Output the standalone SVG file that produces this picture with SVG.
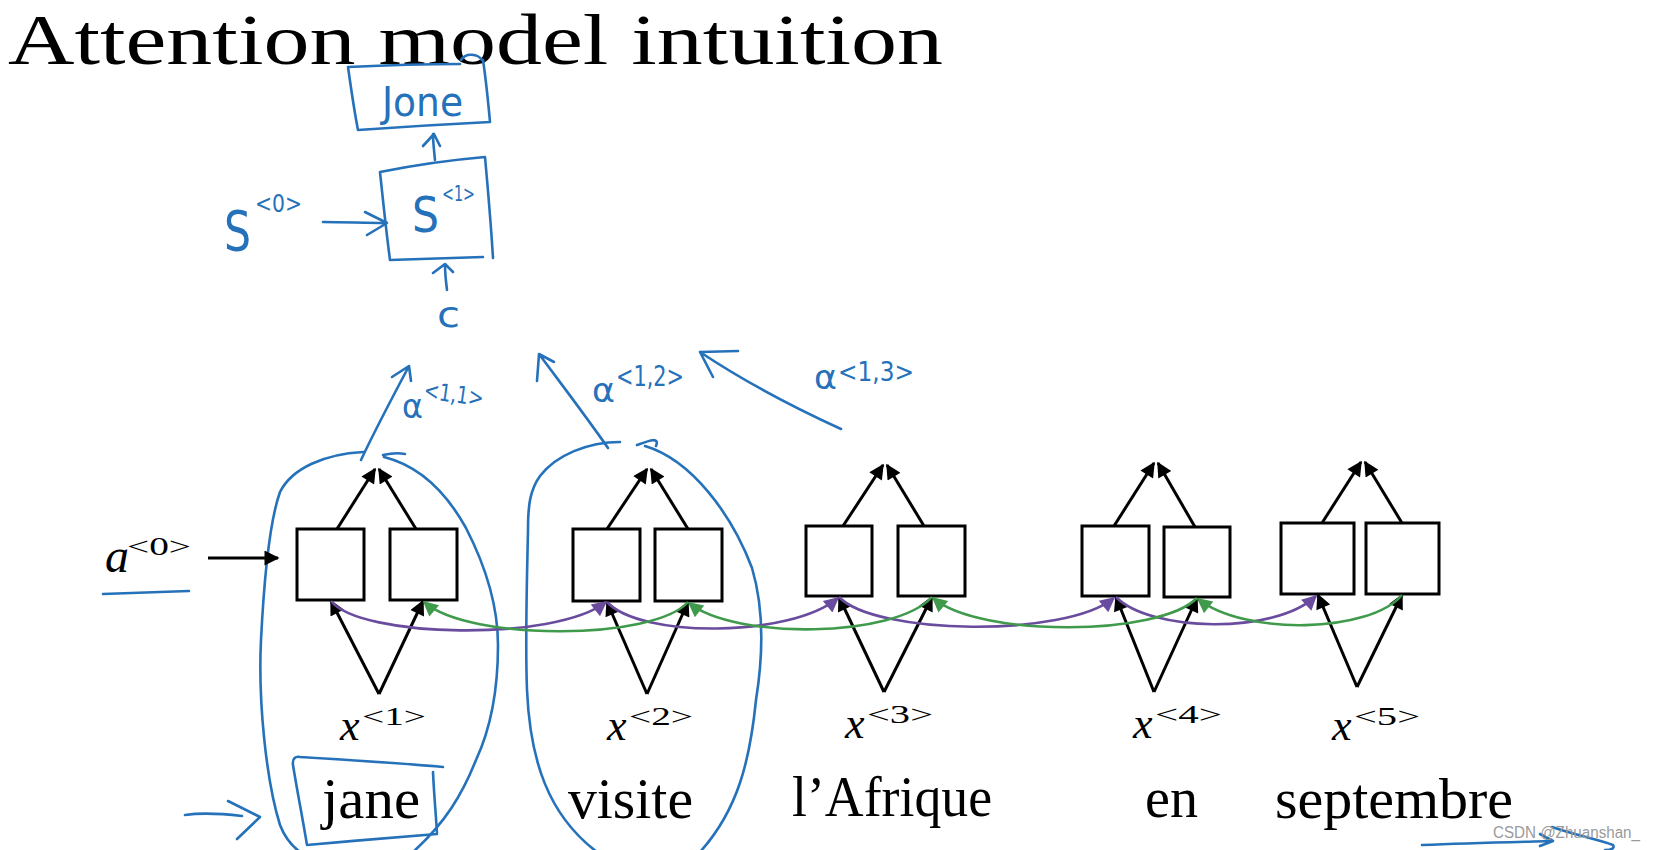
<svg xmlns="http://www.w3.org/2000/svg" width="1656" height="850" viewBox="0 0 1656 850">
  <style>
    .box { fill: #fff; stroke: #000; stroke-width: 3; }
    .arr { fill: none; stroke: #000; stroke-width: 3; marker-end: url(#ahK); }
    .pur { fill: none; stroke: #6a4c9e; stroke-width: 2.6; marker-end: url(#ahP); }
    .grn { fill: none; stroke: #3f9a4b; stroke-width: 2.6; marker-end: url(#ahG); }
    .ink { fill: none; stroke: #2571ba; stroke-width: 2.6; stroke-linecap: round; stroke-linejoin: round; }
    .serif { font-family: "Liberation Serif", "DejaVu Serif", serif; fill: #000; }
    .ital { font-family: "Liberation Serif", "DejaVu Serif", serif; font-style: italic; fill: #000; }
    .hand { font-family: "DejaVu Sans", "Liberation Sans", sans-serif; fill: #2571ba; }
  </style>
  <defs>
    <marker id="ahK" viewBox="0 0 10 10" refX="9" refY="5" markerWidth="17" markerHeight="15" markerUnits="userSpaceOnUse" orient="auto">
      <path d="M0,0 L10,5 L0,10 z" fill="#000"/>
    </marker>
    <marker id="ahP" viewBox="0 0 10 10" refX="9" refY="5" markerWidth="17" markerHeight="15" markerUnits="userSpaceOnUse" orient="auto">
      <path d="M0,0 L10,5 L0,10 z" fill="#6a4c9e"/>
    </marker>
    <marker id="ahG" viewBox="0 0 10 10" refX="9" refY="5" markerWidth="17" markerHeight="15" markerUnits="userSpaceOnUse" orient="auto">
      <path d="M0,0 L10,5 L0,10 z" fill="#3f9a4b"/>
    </marker>
  </defs>

  <rect width="1656" height="850" fill="#fff"/>

  <g id="title">
    <text class="serif" x="8" y="64" font-size="72" textLength="935" lengthAdjust="spacingAndGlyphs">Attention model intuition</text>
  </g>

  <!-- Hand-drawn decoder part -->
  <g id="node-jone-out">
    <path class="ink" d="M348,67 C390,65 430,64 460,64 M461,60 C466,52 478,54 482,60 M483,60 C486,80 488,100 490,122 C450,124 400,127 358,130 C354,110 351,88 348,67"/>
    <text class="hand" x="382" y="116" font-size="40" textLength="81" lengthAdjust="spacingAndGlyphs">Jone</text>
  </g>
  <g id="node-s1">
    <path class="ink" d="M380,172 C415,165 450,160 485,157 C488,190 491,225 493,258 M483,257 C450,258 420,259 390,260 C386,230 383,200 380,172"/>
    <text class="hand" x="412" y="232" font-size="50" textLength="27" lengthAdjust="spacingAndGlyphs">S</text>
    <text class="hand" x="442" y="201" font-size="22" textLength="33" lengthAdjust="spacingAndGlyphs">&lt;1&gt;</text>
  </g>
  <g id="node-s0">
    <text class="hand" x="224" y="250" font-size="56" textLength="27" lengthAdjust="spacingAndGlyphs">S</text>
    <text class="hand" x="255" y="212" font-size="24" textLength="47" lengthAdjust="spacingAndGlyphs">&lt;0&gt;</text>
  </g>
  <g id="node-c">
    <text class="hand" x="437" y="327" font-size="36" textLength="23" lengthAdjust="spacingAndGlyphs">c</text>
  </g>
  <g id="label-alpha11">
    <text class="hand" x="402" y="418" font-size="34" textLength="21" lengthAdjust="spacingAndGlyphs">α</text>
    <text class="hand" x="423" y="398" font-size="24" textLength="60" lengthAdjust="spacingAndGlyphs" transform="rotate(8 423 398)">&lt;1,1&gt;</text>
  </g>
  <g id="label-alpha12">
    <text class="hand" x="592" y="402" font-size="34" textLength="23" lengthAdjust="spacingAndGlyphs">α</text>
    <text class="hand" x="616" y="386" font-size="28" textLength="68" lengthAdjust="spacingAndGlyphs">&lt;1,2&gt;</text>
  </g>
  <g id="label-alpha13">
    <text class="hand" x="814" y="389" font-size="34" textLength="23" lengthAdjust="spacingAndGlyphs">α</text>
    <text class="hand" x="838" y="381" font-size="26" textLength="76" lengthAdjust="spacingAndGlyphs">&lt;1,3&gt;</text>
  </g>

  <!-- Hand-drawn loops and marks -->
  <g id="loop-1">
    <path class="ink" d="M363,452 C325,454 292,468 280,492 C270,520 264,580 261,640 C258,700 266,780 280,825 C285,838 292,846 300,852"/>
    <path class="ink" d="M384,457 C420,466 446,492 466,528 C485,565 498,605 498,645 C498,690 490,730 476,760 C462,795 445,823 413,852"/>
    <path class="ink" d="M383,455 C392,453 400,453 405,454"/>
  </g>
  <g id="loop-2">
    <path class="ink" d="M620,442 C588,442 556,455 540,476 C530,490 528,505 528,530 C527,580 525,640 527,690 C530,760 548,815 597,852"/>
    <path class="ink" d="M637,445 C648,441 660,436 656,446 M645,446 C692,460 732,515 752,568 C763,605 764,650 756,700 C750,760 738,810 700,852"/>
  </g>
  <g id="box-jane">
    <path class="ink" d="M300,757 C350,760 400,763 443,767 M433,772 C434,795 436,815 437,834 C400,837 350,841 307,845 C302,815 297,790 293,765 C292,758 296,756 300,757"/>
  </g>
  <g id="underline-a0">
    <path class="ink" d="M103,594 C130,593 160,592 189,591"/>
  </g>
  <g id="pointer-jane">
    <path class="ink" d="M185,815 C205,812 225,814 242,816 M228,801 L260,817 L237,839"/>
  </g>
  <g id="underline-septembre">
    <path class="ink" d="M1422,845 C1470,843 1515,842 1553,841 M1540,834 L1553,841 L1540,846 M1552,827 C1575,835 1600,840 1613,845 C1615,848 1612,850 1605,850"/>
  </g>

  <!-- Encoder cells -->
  <g id="cell-1">
    <rect class="box" x="297" y="529" width="67" height="71"/>
    <rect class="box" x="390" y="529" width="67" height="71"/>
  </g>
  <g id="cell-2">
    <rect class="box" x="573" y="529" width="67" height="72"/>
    <rect class="box" x="655" y="529" width="67" height="72"/>
  </g>
  <g id="cell-3">
    <rect class="box" x="806" y="526" width="66" height="70"/>
    <rect class="box" x="898" y="526" width="67" height="70"/>
  </g>
  <g id="cell-4">
    <rect class="box" x="1082" y="526" width="67" height="70"/>
    <rect class="box" x="1164" y="527" width="66" height="70"/>
  </g>
  <g id="cell-5">
    <rect class="box" x="1281" y="523" width="73" height="71"/>
    <rect class="box" x="1366" y="523" width="73" height="71"/>
  </g>

  <g id="label-a0">
    <text class="ital" x="105" y="572" font-size="48">a</text>
    <text class="serif" x="127" y="555" font-size="26" textLength="64" lengthAdjust="spacingAndGlyphs">&lt;0&gt;</text>
  </g>

  <g id="label-x1">
    <text class="ital" x="340" y="740" font-size="44">x</text>
    <text class="serif" x="362" y="725" font-size="26" textLength="64" lengthAdjust="spacingAndGlyphs">&lt;1&gt;</text>
  </g>
  <g id="label-x2">
    <text class="ital" x="607" y="740" font-size="44">x</text>
    <text class="serif" x="629" y="725" font-size="26" textLength="64" lengthAdjust="spacingAndGlyphs">&lt;2&gt;</text>
  </g>
  <g id="label-x3">
    <text class="ital" x="845" y="738" font-size="44">x</text>
    <text class="serif" x="867" y="723" font-size="26" textLength="66" lengthAdjust="spacingAndGlyphs">&lt;3&gt;</text>
  </g>
  <g id="label-x4">
    <text class="ital" x="1133" y="738" font-size="44">x</text>
    <text class="serif" x="1155" y="723" font-size="26" textLength="67" lengthAdjust="spacingAndGlyphs">&lt;4&gt;</text>
  </g>
  <g id="label-x5">
    <text class="ital" x="1332" y="740" font-size="44">x</text>
    <text class="serif" x="1354" y="725" font-size="26" textLength="66" lengthAdjust="spacingAndGlyphs">&lt;5&gt;</text>
  </g>

  <g id="word-jane"><text class="serif" x="322" y="818" font-size="58" textLength="98" lengthAdjust="spacingAndGlyphs">jane</text></g>
  <g id="word-visite"><text class="serif" x="568" y="818" font-size="58" textLength="125" lengthAdjust="spacingAndGlyphs">visite</text></g>
  <g id="word-lafrique"><text class="serif" x="792" y="816" font-size="58" textLength="200" lengthAdjust="spacingAndGlyphs">l’Afrique</text></g>
  <g id="word-en"><text class="serif" x="1145" y="817" font-size="58" textLength="53" lengthAdjust="spacingAndGlyphs">en</text></g>
  <g id="word-septembre"><text class="serif" x="1275" y="818" font-size="58" textLength="238" lengthAdjust="spacingAndGlyphs">septembre</text></g>

  <g id="watermark">
    <text x="1493" y="838" font-family="Liberation Sans, Arial, sans-serif" font-size="16" fill="#9a9a9a" textLength="147" lengthAdjust="spacingAndGlyphs">CSDN @Zhuanshan_</text>
  </g>

  <g id="connectors">
    <!-- a<0> input -->
    <line class="arr" x1="208" y1="558" x2="278" y2="558"/>
    <!-- upward outputs -->
    <line class="arr" x1="337" y1="529" x2="375" y2="469"/>
    <line class="arr" x1="416" y1="529" x2="379" y2="469"/>
    <line class="arr" x1="607" y1="529" x2="647" y2="469"/>
    <line class="arr" x1="688" y1="529" x2="651" y2="469"/>
    <line class="arr" x1="843" y1="526" x2="883" y2="465"/>
    <line class="arr" x1="924" y1="526" x2="887" y2="465"/>
    <line class="arr" x1="1114" y1="526" x2="1154" y2="463"/>
    <line class="arr" x1="1195" y1="527" x2="1158" y2="463"/>
    <line class="arr" x1="1322" y1="523" x2="1361" y2="462"/>
    <line class="arr" x1="1402" y1="523" x2="1365" y2="462"/>
    <!-- inputs from x -->
    <line class="arr" x1="379" y1="694" x2="331" y2="601"/>
    <line class="arr" x1="379" y1="694" x2="423" y2="601"/>
    <line class="arr" x1="647" y1="694" x2="607" y2="602"/>
    <line class="arr" x1="647" y1="694" x2="688" y2="602"/>
    <line class="arr" x1="884" y1="692" x2="839" y2="597"/>
    <line class="arr" x1="884" y1="692" x2="932" y2="597"/>
    <line class="arr" x1="1154" y1="692" x2="1116" y2="597"/>
    <line class="arr" x1="1154" y1="692" x2="1197" y2="598"/>
    <line class="arr" x1="1357" y1="687" x2="1318" y2="595"/>
    <line class="arr" x1="1357" y1="687" x2="1402" y2="595"/>
    <!-- forward (purple) -->
    <path class="pur" d="M331,601 C360,638 555,642 606,602"/>
    <path class="pur" d="M607,602 C640,638 790,638 838,598"/>
    <path class="pur" d="M839,597 C875,635 1065,638 1114,598"/>
    <path class="pur" d="M1116,597 C1150,632 1275,635 1316,596"/>
    <!-- backward (green) -->
    <path class="grn" d="M688,602 C655,640 470,642 424,602"/>
    <path class="grn" d="M932,597 C895,638 735,640 689,603"/>
    <path class="grn" d="M1197,598 C1160,636 980,638 933,598"/>
    <path class="grn" d="M1402,595 C1370,633 1245,636 1198,599"/>
    <!-- hand-drawn arrows -->
    <path class="ink" d="M435,160 C434,150 433,142 433,134 M423,146 L434,134 L440,146"/>
    <path class="ink" d="M323,222 C345,222 365,223 386,223 M365,212 L387,223 L367,235"/>
    <path class="ink" d="M447,290 C446,282 445,273 445,265 M433,273 L445,264 L453,272"/>
    <path class="ink" d="M361,460 C375,430 392,398 409,366 M392,377 L409,366 L411,381"/>
    <path class="ink" d="M608,448 C585,415 562,385 539,354 M537,381 L539,354 L554,362"/>
    <path class="ink" d="M841,429 C795,408 745,382 700,352 M738,351 L700,352 L713,377"/>
  </g>
</svg>
